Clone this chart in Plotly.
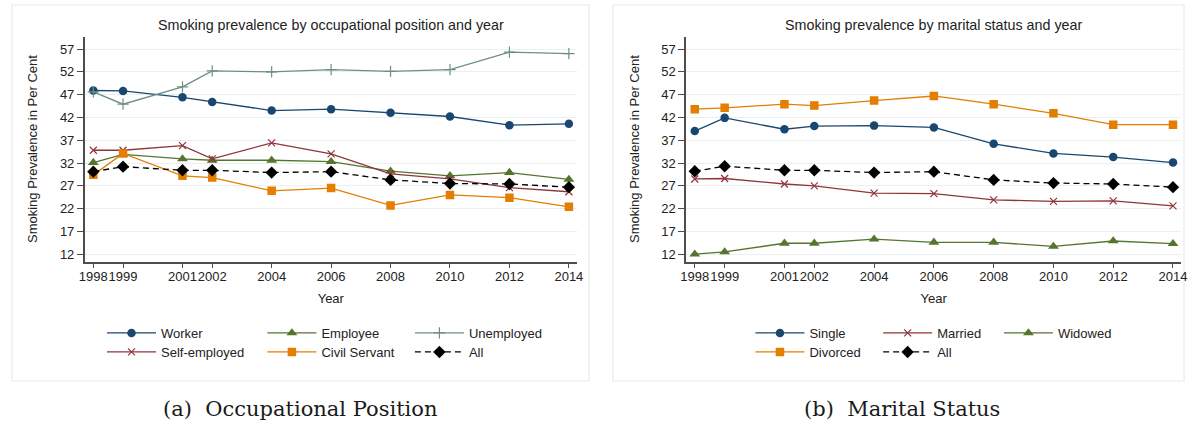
import plotly.graph_objects as go

years = [1998, 1999, 2001, 2002, 2004, 2006, 2008, 2010, 2012, 2014]
year_labels = ["1998", "1999", "2001", "2002", "2004", "2006", "2008", "2010", "2012", "2014"]
y_ticks = [12, 17, 22, 27, 32, 37, 42, 47, 52, 57]

# Panel (a): occupational position
worker = [47.9, 47.8, 46.4, 45.4, 43.5, 43.8, 43.0, 42.2, 40.3, 40.6]
employee = [32.1, 33.9, 32.9, 32.6, 32.6, 32.3, 30.2, 29.2, 29.9, 28.4]
unemployed = [47.6, 44.9, 48.7, 52.2, 52.0, 52.5, 52.1, 52.5, 56.3, 56.0]
self_employed = [34.8, 34.8, 35.8, 32.9, 36.4, 34.0, 29.6, 28.5, 26.6, 25.7]
civil_servant = [29.4, 34.1, 29.2, 28.8, 25.9, 26.5, 22.7, 25.0, 24.4, 22.4]
all_a = [30.1, 31.2, 30.4, 30.4, 29.9, 30.1, 28.3, 27.5, 27.4, 26.7]

# Panel (b): marital status
single = [39.0, 41.9, 39.4, 40.1, 40.2, 39.8, 36.2, 34.1, 33.3, 32.1]
married = [28.5, 28.6, 27.4, 27.0, 25.4, 25.3, 23.9, 23.6, 23.7, 22.6]
widowed = [12.0, 12.5, 14.4, 14.4, 15.3, 14.6, 14.6, 13.7, 14.9, 14.3]
divorced = [43.8, 44.1, 44.9, 44.6, 45.7, 46.7, 44.9, 42.9, 40.4, 40.4]
all_b = [30.2, 31.3, 30.4, 30.4, 29.9, 30.1, 28.3, 27.6, 27.4, 26.7]

NAVY = "#1a476f"
MAROON = "#90353b"
GREEN = "#55752f"
ORANGE = "#e37e00"
TEAL = "#6e8e84"
BLACK = "#000000"

W, H = 1194, 425
FONT = "Liberation Sans, Arial, sans-serif"
TXT = "#222222"

fig = go.Figure()


def px_x(p):
    return p / W


def px_y(p):
    return 1 - p / H


# legend slots: (line start x, row top y) in pixels
ROW1, ROW2 = 318, 337
legend_layout = {}
legend_count = [0]


def new_legend(line_x, row_y):
    legend_count[0] += 1
    n = legend_count[0]
    key = "legend" if n == 1 else f"legend{n}"
    legend_layout[key] = dict(
        x=px_x(line_x - 9), y=px_y(row_y), orientation="h", xanchor="left", yanchor="top",
        bgcolor="rgba(0,0,0,0)", borderwidth=0, itemwidth=49,
        font=dict(family=FONT, size=13, color=TXT),
        itemclick=False, itemdoubleclick=False,
    )
    return key


def add(name, ys, color, symbol, size, xa, ya, slot, dash="solid", lw=1.3, mline=0):
    fig.add_trace(go.Scatter(
        x=years, y=ys, name=name, mode="lines+markers",
        line=dict(color=color, width=lw, dash=dash),
        marker=dict(color=color, symbol=symbol, size=size,
                    line=dict(color=color, width=mline)),
        xaxis=xa, yaxis=ya, legend=new_legend(*slot),
    ))


# left panel
add("Worker", worker, NAVY, "circle", 8.5, "x", "y", (106, ROW1))
add("Employee", employee, GREEN, "triangle-up", 9.5, "x", "y", (268, ROW1))
add("Unemployed", unemployed, TEAL, "cross-thin", 8, "x", "y", (417, ROW1), mline=1.2)
add("Self-employed", self_employed, MAROON, "x-thin", 7, "x", "y", (106, ROW2), mline=1.2)
add("Civil Servant", civil_servant, ORANGE, "square", 8.5, "x", "y", (268, ROW2))
add("All", all_a, BLACK, "diamond", 9.5, "x", "y", (417, ROW2), dash="6px,4px")

# right panel
add("Single", single, NAVY, "circle", 8.5, "x2", "y2", (761, ROW1))
add("Married", married, MAROON, "x-thin", 7, "x2", "y2", (890, ROW1), mline=1.2)
add("Widowed", widowed, GREEN, "triangle-up", 9.5, "x2", "y2", (1012, ROW1))
add("Divorced", divorced, ORANGE, "square", 8.5, "x2", "y2", (761, ROW2))
add("All", all_b, BLACK, "diamond", 9.5, "x2", "y2", (890, ROW2), dash="6px,4px")

xdom1 = [px_x(79.5), px_x(576.7)]
xdom2 = [px_x(687.0), px_x(1187.0)]
ydom = [px_y(261.5), px_y(36.7)]

AX = "#4d4d4d"
GRID = "#eaf0f2"

xcommon = dict(
    range=[1997.71, 2014.27], tickmode="array", tickvals=years, ticktext=year_labels,
    tickangle=0, ticks="outside", ticklen=5, tickcolor=AX, showline=True, linecolor=AX,
    linewidth=1.5, showgrid=False, zeroline=False, ticklabelstandoff=-3,
    tickfont=dict(family=FONT, size=13, color=TXT),
    title=dict(text="Year", font=dict(family=FONT, size=13, color=TXT), standoff=11),
)
ycommon = dict(
    range=[10.4, 59.7], tickmode="array", tickvals=y_ticks,
    ticks="outside", ticklen=6, tickcolor=AX, showline=True, linecolor=AX,
    linewidth=1.5, showgrid=True, gridcolor=GRID, gridwidth=1.2, zeroline=False,
    tickfont=dict(family=FONT, size=13, color=TXT),
    title=dict(text="Smoking Prevalence in Per Cent",
               font=dict(family=FONT, size=13, color=TXT), standoff=19),
)

fig.update_layout(
    width=W, height=H, margin=dict(l=0, r=0, t=0, b=0),
    paper_bgcolor="white", plot_bgcolor="white",
    xaxis=dict(domain=xdom1, anchor="y", **xcommon),
    yaxis=dict(domain=ydom, anchor="x", **ycommon),
    xaxis2=dict(domain=xdom2, anchor="y2", **xcommon),
    yaxis2=dict(domain=ydom, anchor="x2", **ycommon),
    showlegend=True,
    **legend_layout,
)

# panel frames
for x0, x1 in [(6, 589), (613, 1190)]:
    fig.add_shape(type="rect", xref="paper", yref="paper",
                  x0=px_x(x0), x1=px_x(x1), y0=px_y(381), y1=px_y(5),
                  line=dict(color="#e4ecee", width=1.2), fillcolor="rgba(0,0,0,0)", layer="below")

# panel titles
fig.add_annotation(text="Smoking prevalence by occupational position and year",
                   xref="paper", yref="paper", x=(xdom1[0] + xdom1[1]) / 2, y=px_y(25),
                   showarrow=False, xanchor="center", yanchor="middle",
                   font=dict(family=FONT, size=14.3, color=TXT))
fig.add_annotation(text="Smoking prevalence by marital status and year",
                   xref="paper", yref="paper", x=(xdom2[0] + xdom2[1]) / 2, y=px_y(25),
                   showarrow=False, xanchor="center", yanchor="middle",
                   font=dict(family=FONT, size=14.3, color=TXT))

# captions
SERIF = "DejaVu Serif, serif"
fig.add_annotation(text="(a)  Occupational Position", xref="paper", yref="paper",
                   x=px_x(297), y=px_y(409), showarrow=False, xanchor="center", yanchor="middle",
                   font=dict(family=SERIF, size=21, color="#1a1a1a"))
fig.add_annotation(text="(b)  Marital Status", xref="paper", yref="paper",
                   x=px_x(905), y=px_y(409), showarrow=False, xanchor="center", yanchor="middle",
                   font=dict(family=SERIF, size=21, color="#1a1a1a"))

fig.write_html("out.html", config={"displayModeBar": False},
               post_script="document.body.style.margin='0';document.body.style.overflow='hidden';")
